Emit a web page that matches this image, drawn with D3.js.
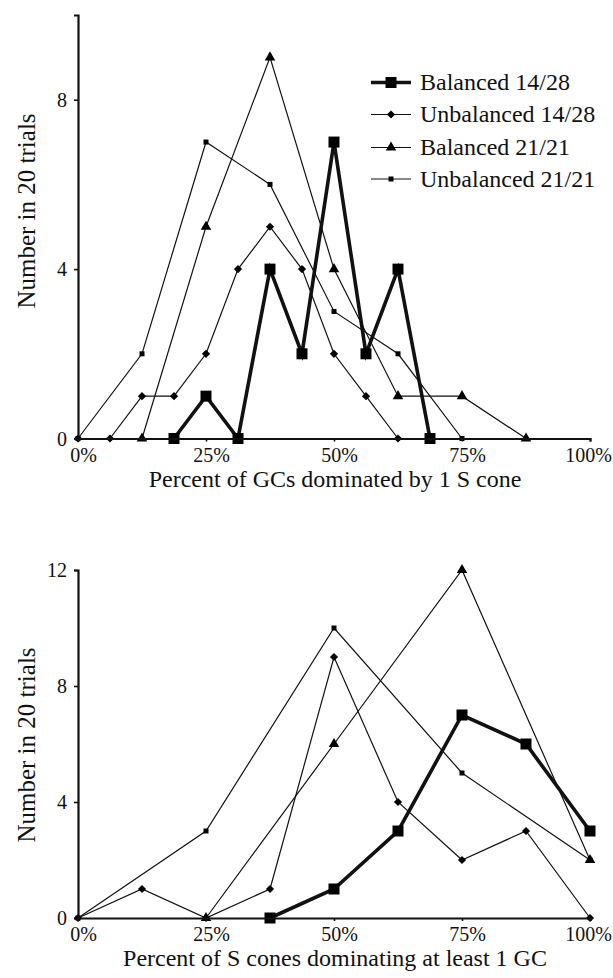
<!DOCTYPE html>
<html>
<head>
<meta charset="utf-8">
<script src="https://cdn.jsdelivr.net/npm/d3@7"></script>
<style>
  body { margin: 0; background: #fff; }
</style>
</head>
<body>
<div id="chart"></div>
<script>
// x positions are in percent
const seriesNames = ["Balanced 14/28", "Unbalanced 14/28", "Balanced 21/21", "Unbalanced 21/21"];

// top panel: percent of GCs dominated by 1 S cone
const topBal1428 = [[18.75, 0], [25, 1], [31.25, 0], [37.5, 4], [43.75, 2], [50, 7], [56.25, 2], [62.5, 4], [68.75, 0]];
const topUnb1428 = [[0, 0], [6.25, 0], [12.5, 1], [18.75, 1], [25, 2], [31.25, 4], [37.5, 5], [43.75, 4], [50, 2], [56.25, 1], [62.5, 0]];
const topBal2121 = [[12.5, 0], [25, 5], [37.5, 9], [50, 4], [62.5, 1], [75, 1], [87.5, 0]];
const topUnb2121 = [[0, 0], [12.5, 2], [25, 7], [37.5, 6], [50, 3], [62.5, 2], [75, 0]];

// bottom panel: percent of S cones dominating at least 1 GC
const botBal1428 = [[37.5, 0], [50, 1], [62.5, 3], [75, 7], [87.5, 6], [100, 3]];
const botUnb1428 = [[0, 0], [12.5, 1], [25, 0], [37.5, 1], [50, 9], [62.5, 4], [75, 2], [87.5, 3], [100, 0]];
const botBal2121 = [[25, 0], [50, 6], [75, 12], [100, 2]];
const botUnb2121 = [[0, 0], [25, 3], [50, 10], [75, 5], [100, 2]];

const xTicks = [0, 25, 50, 75, 100];
const topYTicks = [0, 4, 8];
const botYTicks = [0, 4, 8, 12];

const FONT = '"Liberation Serif"';
const width = 613, height = 978;
const svg = d3.select("#chart").append("svg")
    .attr("width", width)
    .attr("height", height);

// marker styles per series
const styles = [
    { sym: d3.symbolSquare, size: 121, rot: 0, lw: 3.6 },
    { sym: d3.symbolSquare, size: 34, rot: 45, lw: 1.2 },
    { sym: d3.symbolTriangle, size: 48, rot: 0, lw: 1.2 },
    { sym: d3.symbolSquare, size: 25, rot: 0, lw: 1.2 }
];

function panel(cfg) {
    const x = d3.scaleLinear().domain([0, 100]).range([78, 590]);
    const y = d3.scaleLinear().domain([0, cfg.yMax]).range([cfg.y0, cfg.yTop]);
    const g = svg.append("g");

    const line = d3.line().x(d => x(d[0])).y(d => y(d[1]));

    // thin series first, thick one on top
    [3, 2, 1, 0].forEach(i => {
        const data = cfg.series[i];
        const st = styles[i];
        g.append("path")
            .datum(data)
            .attr("d", line)
            .attr("fill", "none")
            .attr("stroke", "#111")
            .attr("stroke-width", st.lw)
            .attr("stroke-linejoin", "miter");
        g.selectAll(".m" + i)
            .data(data)
            .enter().append("path")
            .attr("class", "m" + i)
            .attr("d", d3.symbol().type(st.sym).size(st.size))
            .attr("transform", d => `translate(${x(d[0])},${y(d[1])}) rotate(${st.rot})`)
            .attr("fill", "#000");
    });

    // axes
    const xAxis = g.append("g")
        .attr("transform", `translate(0,${cfg.y0})`)
        .call(d3.axisBottom(x).tickValues(xTicks).tickSize(3).tickSizeOuter(3).tickPadding(6)
            .tickFormat(d => d + "%"));
    const yAxis = g.append("g")
        .attr("transform", `translate(78,0)`)
        .call(d3.axisLeft(y).tickValues(cfg.yTicks).tickSize(4).tickSizeOuter(4).tickPadding(7));

    [xAxis, yAxis].forEach(a => {
        a.select(".domain").attr("stroke", "#111").attr("stroke-width", 2.2);
        a.selectAll(".tick line").attr("stroke", "#111").attr("stroke-width", 1.6);
        a.selectAll(".tick text")
            .style("font-family", FONT)
            .style("font-size", "20px")
            .attr("fill", "#111");
    });
    // labels sit a little right of their ticks, the last one kept inside
    xAxis.selectAll(".tick text")
        .attr("dy", "0.71em")
        .attr("dx", d => d === 100 ? -2 : 5);
    yAxis.selectAll(".tick text").attr("dy", "0.34em");

    g.append("text")
        .attr("x", 335)
        .attr("y", cfg.y0 + 48)
        .attr("text-anchor", "middle")
        .style("font-family", FONT)
        .style("font-size", "24px")
        .attr("fill", "#111")
        .text(cfg.xTitle);

    g.append("text")
        .attr("transform", `translate(35,${cfg.yTitleMid}) rotate(-90)`)
        .attr("text-anchor", "middle")
        .style("font-family", FONT)
        .style("font-size", "25px")
        .attr("fill", "#111")
        .text("Number in 20 trials");

    return { x, y, g };
}

panel({
    y0: 438.5, yTop: 15, yMax: 10, yTicks: topYTicks,
    series: [topBal1428, topUnb1428, topBal2121, topUnb2121],
    xTitle: "Percent of GCs dominated by 1 S cone",
    yTitleMid: 211
});

panel({
    y0: 918, yTop: 570, yMax: 12, yTicks: botYTicks,
    series: [botBal1428, botUnb1428, botBal2121, botUnb2121],
    xTitle: "Percent of S cones dominating at least 1 GC",
    yTitleMid: 745
});

// legend (top panel)
const legend = svg.append("g");
const legendY = [82.5, 114.5, 147.5, 179];
seriesNames.forEach((name, i) => {
    const st = styles[i];
    const row = legend.append("g").attr("transform", `translate(0,${legendY[i]})`);
    row.append("line")
        .attr("x1", 371).attr("x2", 411)
        .attr("stroke", "#111")
        .attr("stroke-width", st.lw);
    row.append("path")
        .attr("d", d3.symbol().type(st.sym).size(st.size))
        .attr("transform", `translate(391,0) rotate(${st.rot})`)
        .attr("fill", "#000");
    row.append("text")
        .attr("x", 420)
        .attr("dy", "0.33em")
        .style("font-family", FONT)
        .style("font-size", "24px")
        .attr("fill", "#111")
        .text(name);
});
</script>
</body>
</html>
